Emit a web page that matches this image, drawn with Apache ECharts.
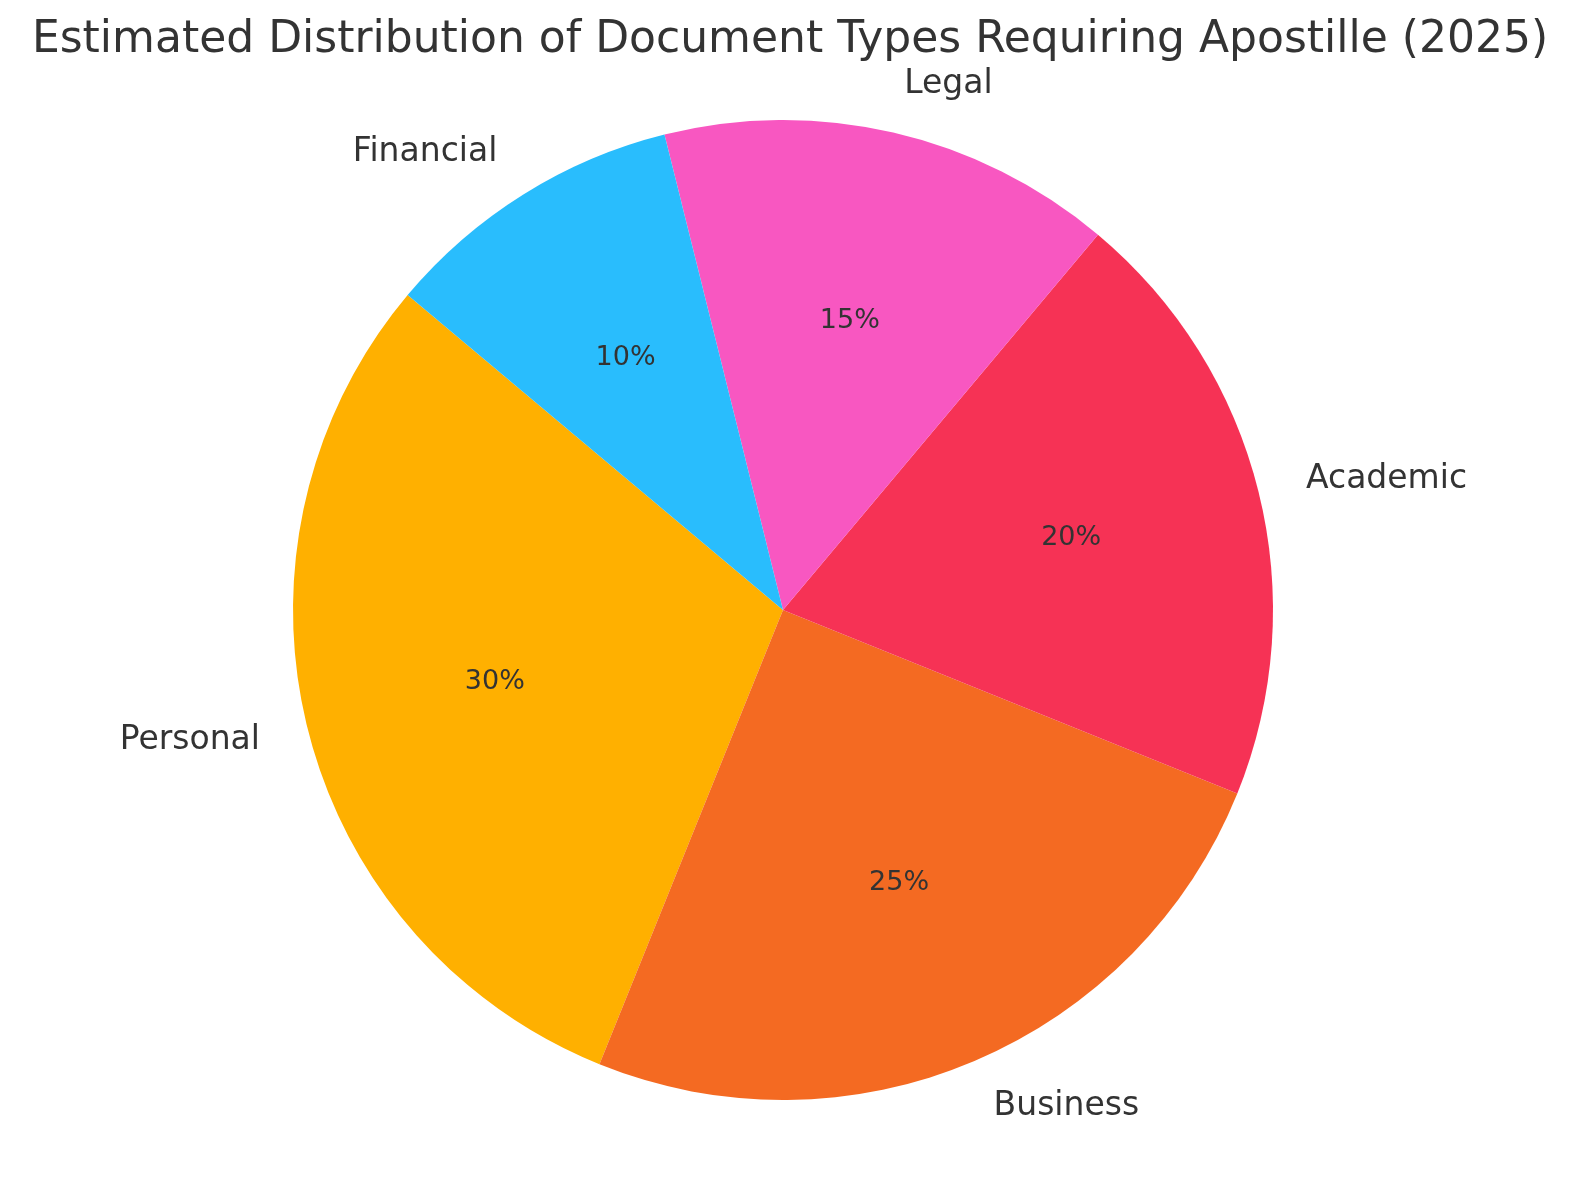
<!DOCTYPE html>
<html>
<head>
<meta charset="utf-8">
<script src="https://cdn.jsdelivr.net/npm/echarts@6/dist/echarts.min.js"></script>
<style>html,body{margin:0;padding:0;background:#fff}#c{width:1580px;height:1180px}</style>
</head>
<body>
<div id="c"></div>
<script>
const categories = ["Personal", "Business", "Academic", "Legal", "Financial"];
const values = [30, 25, 20, 15, 10];
const colors = ["#FFB000", "#F46A22", "#F63255", "#F857C1", "#29BDFD"];

const chart = echarts.init(document.getElementById('c'), null, {renderer: 'canvas'});
const R = 490;
const data = categories.map((n, i) => ({name: n, value: values[i], itemStyle: {color: colors[i]}}));
const pctData = categories.map((n, i) => ({name: n, value: values[i]}));

chart.setOption({
  animation: false,
  backgroundColor: '#ffffff',
  title: {
    text: 'Estimated Distribution of Document Types Requiring Apostille (2025)',
    left: 'center',
    top: 14,
    textStyle: {fontFamily: 'DejaVu Sans', fontSize: 44, fontWeight: 'normal', color: '#333333'}
  },
  series: [
    {
      type: 'pie',
      center: [783, 610],
      radius: [0, R],
      startAngle: 140,
      clockwise: false,
      avoidLabelOverlap: false,
      silent: true,
      emphasis: {disabled: true, scale: false},
      data: data,
      itemStyle: {borderWidth: 0},
      label: {
        show: true,
        position: 'outside',
        formatter: '{b}',
        fontFamily: 'DejaVu Sans',
        fontSize: 33,
        color: '#333333',
        distanceToLabelLine: 0
      },
      labelLine: {show: false, length: 49, length2: 0}
    },
    {
      type: 'pie',
      center: [783, 610],
      radius: [0, R * 1.2],
      startAngle: 140,
      clockwise: false,
      silent: true,
      emphasis: {disabled: true, scale: false},
      data: pctData,
      itemStyle: {color: 'rgba(0,0,0,0)', borderWidth: 0},
      label: {
        show: true,
        position: 'inside',
        formatter: '{c}%',
        fontFamily: 'DejaVu Sans',
        fontSize: 27,
        color: '#333333'
      },
      labelLine: {show: false}
    }
  ]
});
</script>
</body>
</html>
